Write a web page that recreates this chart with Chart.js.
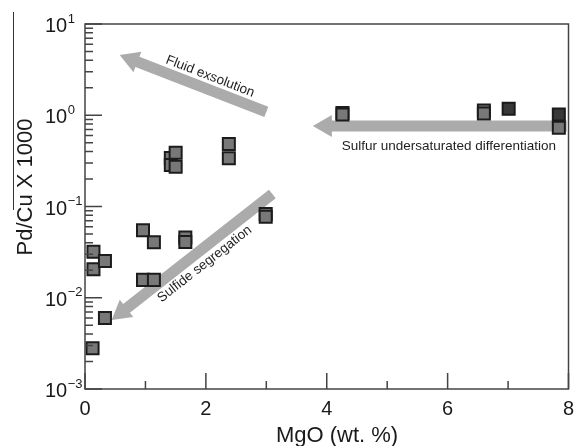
<!DOCTYPE html>
<html>
<head>
<meta charset="utf-8">
<script src="https://cdn.jsdelivr.net/npm/chart.js@4/dist/chart.umd.min.js"></script>
<style>
  body { margin: 0; background: #fff; }
  #wrap { width: 579px; height: 446px; }
</style>
</head>
<body>
<div id="wrap"><canvas id="chart"></canvas></div>
<script>
// MgO (wt. %) vs Pd/Cu x 1000
var mgo = [0.125, 0.33, 0.14, 0.14, 0.33, 0.96, 1.14, 0.96, 1.14, 1.66, 1.66, 2.99, 2.99,
           1.42, 1.42, 1.50, 1.50, 2.38, 2.38, 4.26, 4.26, 6.60, 6.60, 7.84];
var pdcu = [0.0028, 0.0060, 0.032, 0.0205, 0.0253, 0.0548, 0.0405, 0.0157, 0.0157, 0.0457, 0.0408, 0.0828, 0.0773,
            0.340, 0.285, 0.389, 0.272, 0.484, 0.337, 1.06, 1.02, 1.13, 1.045, 0.731];
var mgoDark = [7.01, 7.84];
var pdcuDark = [1.18, 1.02];

var xMajor = [0, 2, 4, 6, 8];
var xMinor = [1, 3, 5, 7];
var yExp = [1, 0, -1, -2, -3];

// trend arrows, in data units
var arrows = [
  { from: [3.0, 1.09], to: [0.574, 4.57], text: 'Fluid exsolution', at: [2.07, 2.66] },
  { from: [3.10, 0.137], to: [0.44, 0.0057], text: 'Sulfide segregation', at: [1.98, 0.0234] },
  { from: [7.97, 0.762], to: [3.77, 0.762], text: 'Sulfur undersaturated differentiation', at: [6.02, 0.46] }
];

function pts(xs, ys) {
  return xs.map(function(x, i) { return { x: x, y: ys[i] }; });
}

var FONT = '"Liberation Sans", Arial, sans-serif';

var decor = {
  id: 'decor',
  beforeDatasetsDraw: function(chart) {
    var ctx = chart.ctx, xs = chart.scales.x, ys = chart.scales.y;
    ctx.save();
    arrows.forEach(function(a) {
      var x1 = xs.getPixelForValue(a.from[0]), y1 = ys.getPixelForValue(a.from[1]);
      var x2 = xs.getPixelForValue(a.to[0]), y2 = ys.getPixelForValue(a.to[1]);
      var ang = Math.atan2(y2 - y1, x2 - x1);
      var len = Math.hypot(x2 - x1, y2 - y1);
      var hl = 19, hw = 11, sw = 5.5;
      ctx.save();
      ctx.translate(x1, y1);
      ctx.rotate(ang);
      ctx.fillStyle = '#ababab';
      ctx.beginPath();
      ctx.moveTo(0, -sw);
      ctx.lineTo(len - hl, -sw);
      ctx.lineTo(len - hl, -hw);
      ctx.lineTo(len, 0);
      ctx.lineTo(len - hl, hw);
      ctx.lineTo(len - hl, sw);
      ctx.lineTo(0, sw);
      ctx.closePath();
      ctx.fill();
      ctx.restore();

      // label runs along the arrow, kept upright
      var ta = ang;
      if (ta > Math.PI / 2) ta -= Math.PI;
      if (ta < -Math.PI / 2) ta += Math.PI;
      ctx.save();
      ctx.translate(xs.getPixelForValue(a.at[0]), ys.getPixelForValue(a.at[1]));
      ctx.rotate(ta);
      ctx.fillStyle = '#1e1e1e';
      ctx.font = '13.5px ' + FONT;
      ctx.textAlign = 'center';
      ctx.textBaseline = 'middle';
      ctx.fillText(a.text, 0, 0);
      ctx.restore();
    });
    ctx.restore();
  },
  afterDatasetsDraw: function(chart) {
    var ctx = chart.ctx, xs = chart.scales.x, ys = chart.scales.y;
    var a = chart.chartArea;
    ctx.save();
    ctx.strokeStyle = '#444';
    ctx.lineWidth = 1.5;
    ctx.strokeRect(a.left, a.top, a.right - a.left, a.bottom - a.top);

    // inward ticks
    ctx.beginPath();
    xMajor.forEach(function(v) {
      var px = xs.getPixelForValue(v);
      ctx.moveTo(px, a.bottom); ctx.lineTo(px, a.bottom - 16);
    });
    xMinor.forEach(function(v) {
      var px = xs.getPixelForValue(v);
      ctx.moveTo(px, a.bottom); ctx.lineTo(px, a.bottom - 8);
    });
    yExp.forEach(function(e) {
      var py = ys.getPixelForValue(Math.pow(10, e));
      ctx.moveTo(a.left, py); ctx.lineTo(a.left + 17, py);
      if (e < 1) {
        for (var m = 2; m <= 9; m++) {
          var my = ys.getPixelForValue(m * Math.pow(10, e));
          ctx.moveTo(a.left, my); ctx.lineTo(a.left + 8, my);
        }
      }
    });
    ctx.stroke();

    ctx.fillStyle = '#1a1a1a';
    // x tick labels
    ctx.font = '20px ' + FONT;
    ctx.textAlign = 'center';
    ctx.textBaseline = 'alphabetic';
    xMajor.forEach(function(v) {
      ctx.fillText(String(v), xs.getPixelForValue(v), a.bottom + 26);
    });
    // y tick labels as powers of ten
    yExp.forEach(function(e) {
      var py = ys.getPixelForValue(Math.pow(10, e));
      ctx.font = '20px ' + FONT;
      ctx.textAlign = 'left';
      ctx.fillText('10', 45, py + 8);
      var w = ctx.measureText('10').width;
      ctx.font = '13px ' + FONT;
      ctx.fillText(e < 0 ? '\u2212' + Math.abs(e) : String(e), 45 + w + 0.5, py - 1.5);
    });

    // axis titles
    ctx.font = '22px ' + FONT;
    ctx.textAlign = 'center';
    ctx.fillText('MgO (wt. %)', 337, 441.5);
    ctx.save();
    ctx.translate(31.5, 187);
    ctx.rotate(-Math.PI / 2);
    ctx.fillText('Pd/Cu X 1000', 0, 0);
    ctx.restore();

    // edge of the neighbouring panel
    ctx.strokeStyle = '#333';
    ctx.lineWidth = 1;
    ctx.beginPath();
    ctx.moveTo(13.5, 12);
    ctx.lineTo(13.5, 210);
    ctx.stroke();
    ctx.restore();
  }
};

new Chart(document.getElementById('chart'), {
  type: 'scatter',
  data: {
    datasets: [{
      data: pts(mgo, pdcu),
      pointStyle: 'rect',
      pointRadius: 8.5,
      borderWidth: 2,
      borderColor: '#1c1c1c',
      backgroundColor: '#787878',
      order: 1
    }, {
      data: pts(mgoDark, pdcuDark),
      pointStyle: 'rect',
      pointRadius: 8.5,
      borderWidth: 2,
      borderColor: '#1a1a1a',
      backgroundColor: '#383838',
      order: 2
    }]
  },
  options: {
    responsive: true,
    maintainAspectRatio: false,
    animation: false,
    layout: { padding: { left: 85, right: 6, top: 24, bottom: 57 } },
    plugins: { legend: { display: false }, tooltip: { enabled: false } },
    scales: {
      x: { type: 'linear', min: 0, max: 8, display: false },
      y: { type: 'logarithmic', min: 0.001, max: 10, display: false }
    }
  },
  plugins: [decor]
});
</script>
</body>
</html>
